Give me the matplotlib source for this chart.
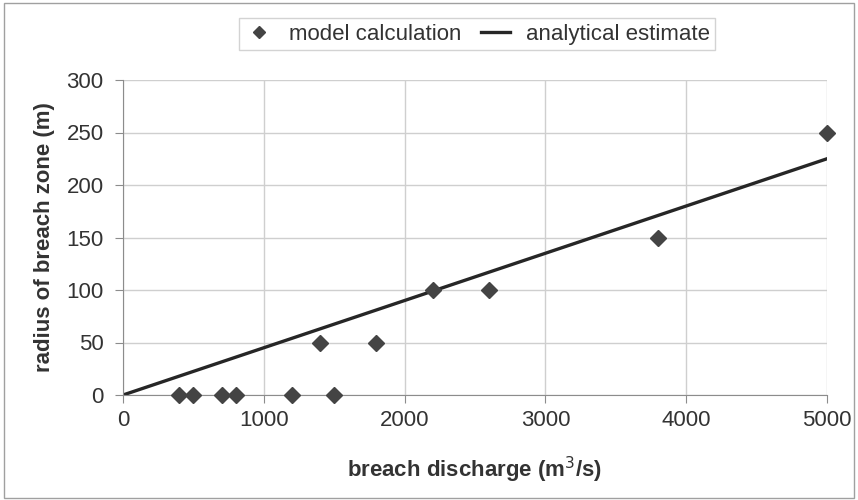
import matplotlib
matplotlib.use("Agg")
import matplotlib.pyplot as plt
from matplotlib.patches import Rectangle

# model results
discharge = [400, 500, 700, 800, 1200, 1500, 1400, 1800, 2200, 2600, 3800, 5000]
radius = [0, 0, 0, 0, 0, 0, 50, 50, 100, 100, 150, 250]

# analytical estimate (straight line)
est_q = [0, 5000]
est_r = [0, 225]

x_ticks = [0, 1000, 2000, 3000, 4000, 5000]
y_ticks = [0, 50, 100, 150, 200, 250, 300]

plt.rcParams['font.family'] = ['Liberation Sans', 'DejaVu Sans']
text_col = "#333333"

fig = plt.figure(figsize=(8.58, 5.0), dpi=100)
fig.patches.append(Rectangle((0.005, 0.005), 0.99, 0.99, transform=fig.transFigure,
                             fill=False, edgecolor="#a0a0a0", linewidth=1.0))
ax = fig.add_axes([0.1434, 0.21, 0.8205, 0.63])

ax.plot(discharge, radius, linestyle="none", marker="D", markersize=8.5,
        color="#444444", label="model calculation", zorder=3, clip_on=False)
ax.plot(est_q, est_r, color="#262626", linewidth=2.4, label="analytical estimate", zorder=2)

ax.set_xlim(0, 5000)
ax.set_ylim(0, 300)
ax.set_xticks(x_ticks)
ax.set_yticks(y_ticks)
ax.grid(True, color="#cfcfcf", linewidth=1.0)
ax.set_axisbelow(True)
for s in ["top", "right"]:
    ax.spines[s].set_visible(False)
for s in ["left", "bottom"]:
    ax.spines[s].set_color("#8c8c8c")
ax.tick_params(axis="both", labelsize=16, colors="#8c8c8c", labelcolor=text_col, length=6)
ax.tick_params(axis="x", pad=5)
ax.tick_params(axis="y", pad=8)

ax.set_xlabel("breach discharge (m$^3$/s)", fontsize=16, fontweight="bold", color=text_col, labelpad=17)
ax.set_ylabel("radius of breach zone (m)", fontsize=16, fontweight="bold", color=text_col, labelpad=8)

leg = fig.legend(loc="center", bbox_to_anchor=(477 / 858, 1 - 34 / 500), ncol=2,
                 fontsize=16, frameon=True, fancybox=False, edgecolor="#c8c8c8",
                 handlelength=1.3, handletextpad=0.7, columnspacing=0.9, borderpad=0.25,
                 markerscale=0.7)
leg.get_frame().set_linewidth(1.0)
for t in leg.get_texts():
    t.set_color(text_col)

fig.savefig("out.png", dpi=100)
